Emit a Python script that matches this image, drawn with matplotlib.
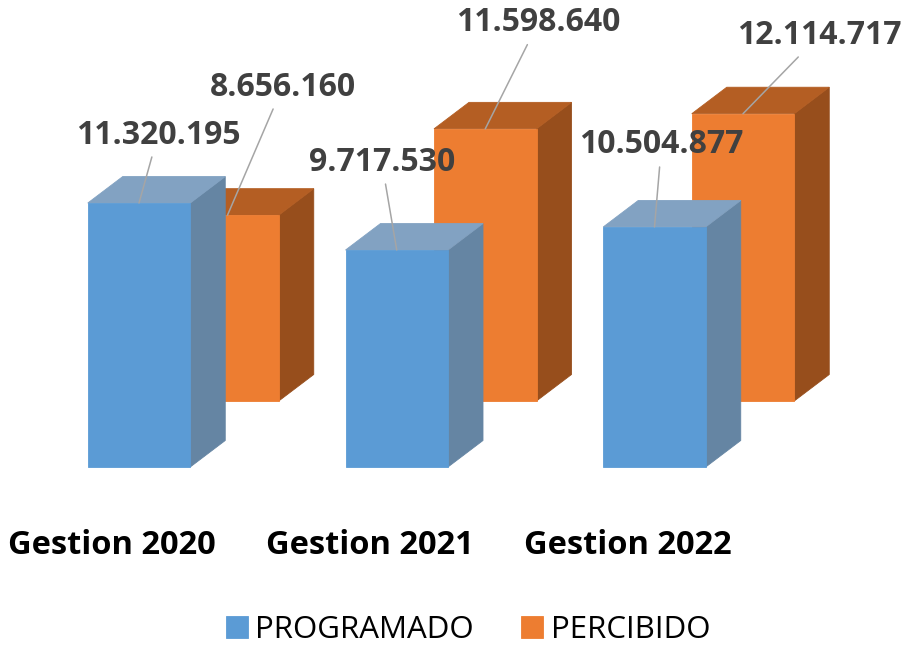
import numpy as np
import matplotlib.pyplot as plt
from matplotlib.patches import Polygon

plt.rcParams['font.family'] = ['Open Sans', 'DejaVu Sans']

# data
categories = ["Gestion 2020", "Gestion 2021", "Gestion 2022"]
programado = [11320195, 9717530, 10504877]
percibido = [8656160, 11598640, 12114717]
series_names = ["PROGRAMADO", "PERCIBIDO"]

# label offsets (pixels) from bar top to label centre
prog_offsets = [(19, 68), (-15, 88), (7, 82)]
perc_offsets = [(55, 128), (53, 106), (76, 78)]

# fake 3d geometry (pixel based)
cat_px = 257.75          # px between categories
px_per_m = 29.33         # px per million
base = 2.32              # value axis minimum (millions)

fig = plt.figure(figsize=(9.09, 6.5), dpi=100)
ax = fig.add_axes([0, 0, 1, 1])
ax.set_xlim(-139 / cat_px, (909 - 139) / cat_px)
ax.set_ylim(base - (650 - 467) / px_per_m, base + 467 / px_per_m)
ax.axis('off')

w = 102.5 / cat_px
dx = 35 / cat_px
dy = 26.5 / px_per_m
back_dx = 88.5 / cat_px
back_dy = 66 / px_per_m


def bar3d(xs, vals, bottom, colors, label):
    front, top, side = colors
    for xc, v in zip(xs, vals):
        x0, x1 = xc - w / 2, xc + w / 2
        ax.add_patch(Polygon([(x1, bottom), (x1 + dx, bottom + dy),
                              (x1 + dx, v + dy), (x1, v)],
                             fc=side, ec=side, lw=0.6))
        ax.add_patch(Polygon([(x0, v), (x1, v), (x1 + dx, v + dy),
                              (x0 + dx, v + dy)], fc=top, ec=top, lw=0.6))
    return ax.bar(xs, np.array(vals) - bottom, w, bottom=bottom,
                  color=front, ec=front, label=label, lw=0.6)


x = np.arange(len(categories))
prog = np.array(programado) / 1e6
perc = np.array(percibido) / 1e6

# back row first so the front row hides it
bar3d(x + back_dx, perc + back_dy, base + back_dy,
      ('#ED7D31', '#B45E23', '#974E1C'), series_names[1])
bar3d(x, prog, base, ('#5B9BD5', '#82A2C2', '#6585A3'), series_names[0])


def fmt(v):
    return f"{v:,}".replace(",", ".")


def put_labels(xs, tops, raw, offsets):
    for xc, t, v, off in zip(xs, tops, raw, offsets):
        ax.annotate(fmt(v), xy=(xc, t), xytext=off, textcoords='offset pixels',
                    ha='center', va='center', fontsize=23, fontweight='bold',
                    color='#404040',
                    arrowprops=dict(arrowstyle='-', color='#A5A5A5', lw=1.1,
                                    shrinkA=2, shrinkB=0))


put_labels(x, prog, programado, prog_offsets)
put_labels(x + back_dx, perc + back_dy, percibido, perc_offsets)

y_cat = base - (546 - 467) / px_per_m
for xc, name in zip(x, categories):
    ax.text(xc - 0.105, y_cat, name, ha='center', va='center',
            fontsize=23.5, fontweight='bold', color='black')

h, l = ax.get_legend_handles_labels()
fig.legend(h[::-1], l[::-1], loc='center', bbox_to_anchor=(468 / 909, 1 - 630 / 650),
           ncol=2, frameon=False, fontsize=22.5, handlelength=0.7,
           handleheight=0.7, handletextpad=0.25, columnspacing=1.5,
           borderaxespad=0, borderpad=0)

fig.savefig('out.png', dpi=100)
